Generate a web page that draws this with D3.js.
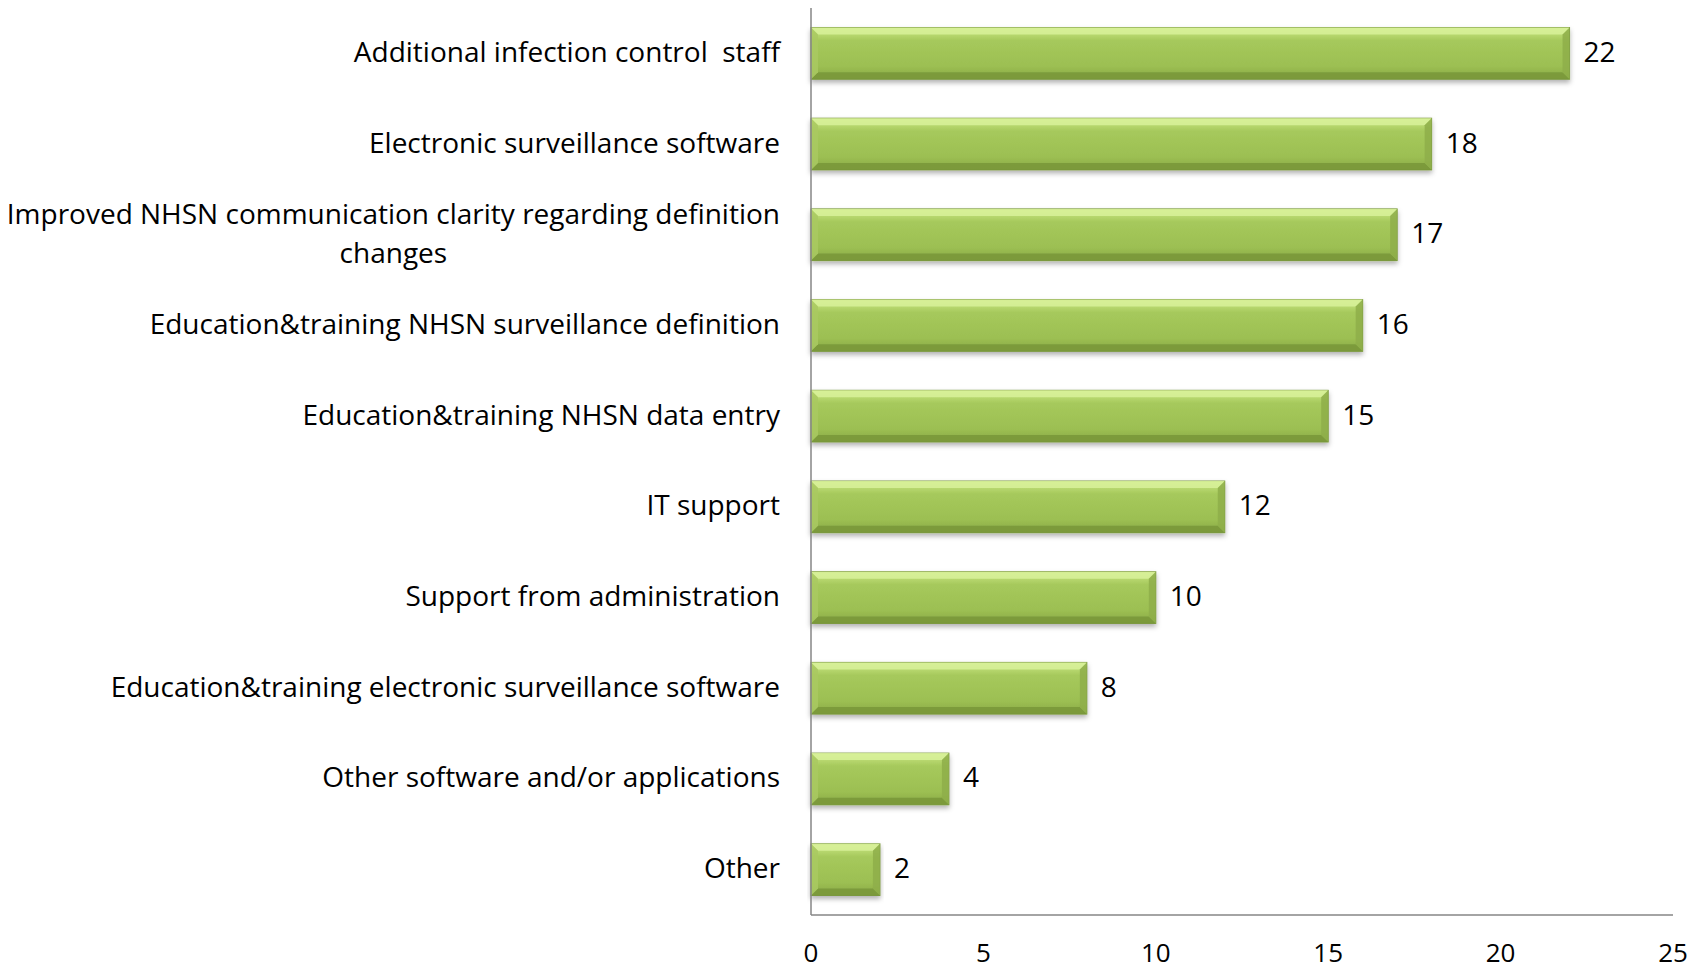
<!DOCTYPE html>
<html>
<head>
<meta charset="utf-8">
<script src="https://cdn.jsdelivr.net/npm/d3@7"></script>
<style>
    body { margin: 0; background: #ffffff; }
    svg text { font-family: "Open Sans", Lato, sans-serif; fill: #000; }
</style>
</head>
<body>
<div id="chart"></div>
<script>
// Chart data
const categories = [
    "Additional infection control  staff",
    "Electronic surveillance software",
    "Improved NHSN communication clarity regarding definition changes",
    "Education&training NHSN surveillance definition",
    "Education&training NHSN data entry",
    "IT support",
    "Support from administration",
    "Education&training electronic surveillance software",
    "Other software and/or applications",
    "Other"
];
const counts = [22, 18, 17, 16, 15, 12, 10, 8, 4, 2];
const xTicks = [0, 5, 10, 15, 20, 25];
// the long label is broken in two lines like the original
const labelLines = {
    "Improved NHSN communication clarity regarding definition changes":
        ["Improved NHSN communication clarity regarding definition", "changes"]
};

const width = 1707, height = 972;
const margin = { top: 8, right: 34, bottom: 57, left: 811 };
const fontSize = 28;

const svg = d3.select("#chart").append("svg")
    .attr("width", width)
    .attr("height", height);

// Gradient and shadow for the bevelled bars
const defs = svg.append("defs");
const grad = defs.append("linearGradient")
    .attr("id", "barGrad")
    .attr("x1", 0).attr("y1", 0).attr("x2", 0).attr("y2", 1);
grad.append("stop").attr("offset", "0%").attr("stop-color", "#cde986");
grad.append("stop").attr("offset", "25%").attr("stop-color", "#a6c95c");
grad.append("stop").attr("offset", "75%").attr("stop-color", "#9cbf52");
grad.append("stop").attr("offset", "100%").attr("stop-color", "#88a847");

const shadow = defs.append("filter")
    .attr("id", "barShadow")
    .attr("x", "-5%").attr("y", "-20%").attr("width", "110%").attr("height", "150%");
shadow.append("feDropShadow")
    .attr("dx", 0).attr("dy", 3)
    .attr("stdDeviation", 2.5)
    .attr("flood-color", "#000")
    .attr("flood-opacity", 0.3);

// Scales
const x = d3.scaleLinear()
    .domain([0, 25])
    .range([margin.left, width - margin.right]);

const y = d3.scaleBand()
    .domain(categories)
    .range([margin.top, height - margin.bottom])
    .paddingInner(0.43)
    .paddingOuter(0.215);

// Bars
const bev = 7;
const bars = svg.append("g")
    .selectAll("g")
    .data(categories)
    .enter()
    .append("g")
    .attr("filter", "url(#barShadow)");

bars.append("rect")
    .attr("x", x(0))
    .attr("y", d => y(d))
    .attr("width", (d, i) => x(counts[i]) - x(0))
    .attr("height", y.bandwidth())
    .attr("fill", "url(#barGrad)")
    .attr("stroke", "#7d9a40")
    .attr("stroke-width", 1);

// bevel edges: top light, bottom dark, left/right mid
function bevelPath(d, i, side) {
    const x0 = x(0), x1 = x(counts[i]);
    const y0 = y(d), y1 = y(d) + y.bandwidth();
    const b = Math.min(bev, (x1 - x0) / 2);
    let pts;
    if (side === "top") pts = [[x0, y0], [x1, y0], [x1 - b, y0 + b], [x0 + b, y0 + b]];
    if (side === "bottom") pts = [[x0, y1], [x1, y1], [x1 - b, y1 - b], [x0 + b, y1 - b]];
    if (side === "left") pts = [[x0, y0], [x0 + b, y0 + b], [x0 + b, y1 - b], [x0, y1]];
    if (side === "right") pts = [[x1, y0], [x1 - b, y0 + b], [x1 - b, y1 - b], [x1, y1]];
    return "M" + pts.map(p => p.join(",")).join("L") + "Z";
}

const bevelColors = { top: "#d8f19a", bottom: "#789638", left: "#a9c962", right: "#8eae4a" };
["top", "bottom", "left", "right"].forEach(side => {
    bars.append("path")
        .attr("d", (d, i) => bevelPath(d, i, side))
        .attr("fill", bevelColors[side])
        .attr("opacity", 0.85);
});

// Value labels
svg.append("g")
    .selectAll("text")
    .data(categories)
    .enter()
    .append("text")
    .attr("x", (d, i) => x(counts[i]) + 14)
    .attr("y", d => y(d) + y.bandwidth() / 2 + 1)
    .attr("dominant-baseline", "middle")
    .style("font-size", fontSize + "px")
    .text((d, i) => counts[i]);

// Category labels
const labelRight = x(0) - 31;
const catLabels = svg.append("g")
    .selectAll("text")
    .data(categories)
    .enter()
    .append("text")
    .attr("y", d => y(d) + y.bandwidth() / 2 + 1)
    .style("font-size", fontSize + "px")
    .style("white-space", "pre");

catLabels.each(function (d) {
    const t = d3.select(this);
    const lines = labelLines[d] || [d];
    const lineH = 39;
    if (lines.length === 1) {
        t.attr("x", labelRight)
            .attr("text-anchor", "end")
            .attr("dominant-baseline", "middle")
            .text(d);
    } else {
        // measure widest line so the block ends at labelRight, lines centred
        const tmp = t.append("tspan").text(lines[0]);
        const w = tmp.node().getComputedTextLength();
        tmp.remove();
        const cx = labelRight - w / 2;
        const cy = y(d) + y.bandwidth() / 2 + 1;
        t.attr("text-anchor", "middle");
        lines.forEach((ln, k) => {
            t.append("tspan")
                .attr("x", cx)
                .attr("y", cy + (k - (lines.length - 1) / 2) * lineH)
                .attr("dominant-baseline", "middle")
                .text(ln);
        });
    }
});

// Axes lines
svg.append("line")
    .attr("x1", x(0)).attr("x2", x(0))
    .attr("y1", margin.top).attr("y2", height - margin.bottom)
    .attr("stroke", "#868686")
    .attr("stroke-width", 1.5);

svg.append("line")
    .attr("x1", x(0)).attr("x2", x(25))
    .attr("y1", height - margin.bottom).attr("y2", height - margin.bottom)
    .attr("stroke", "#868686")
    .attr("stroke-width", 1.5);

// X tick labels
svg.append("g")
    .selectAll("text")
    .data(xTicks)
    .enter()
    .append("text")
    .attr("x", d => x(d))
    .attr("y", height - margin.bottom + 40)
    .attr("text-anchor", "middle")
    .attr("dominant-baseline", "middle")
    .style("font-size", "26px")
    .text(d => d);
</script>
</body>
</html>
